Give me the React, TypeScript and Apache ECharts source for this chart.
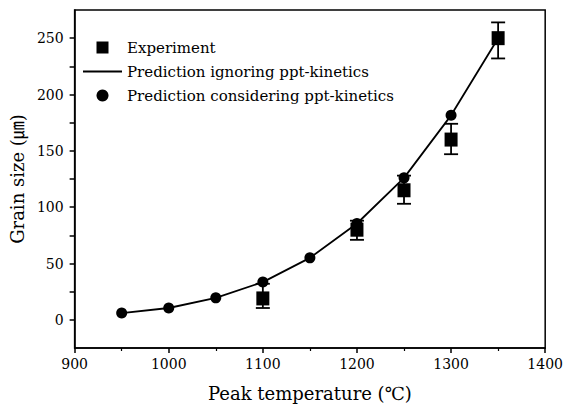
import React, { useEffect, useRef } from "react";
import * as echarts from "echarts";

// Peak temperature (°C) for each series
const predTemps = [950, 1000, 1050, 1100, 1150, 1200, 1250, 1300];
const predConsidering = [6, 10.5, 19.5, 33.5, 55, 85.5, 126, 181.5];

const lineTemps = [950, 1000, 1050, 1100, 1150, 1200, 1250, 1300, 1350];
const predIgnoring = [6, 10.5, 19.5, 33.5, 55, 85.5, 126, 181.5, 250];

const expTemps = [1100, 1200, 1250, 1300, 1350];
const expSize = [19, 80, 115, 160, 250];
const expLow = [10.5, 71, 103, 147, 232];
const expHigh = [32, 88, 128, 174, 264];

const FONT = "'DejaVu Serif', 'Noto Sans CJK KR', serif";

export default function App() {
  const ref = useRef<HTMLDivElement>(null);

  useEffect(() => {
    if (!ref.current) return;
    const chart = echarts.init(ref.current, undefined, { renderer: "svg" });

    const errData = expTemps.map((t, i) => [t, expLow[i], expHigh[i]]);

    chart.setOption({
      animation: false,
      backgroundColor: "#ffffff",
      textStyle: { fontFamily: FONT, color: "#000" },
      grid: {
        left: 73,
        right: 19,
        top: 10,
        bottom: 64,
        show: true,
        borderColor: "#000",
        borderWidth: 1.5,
      },
      legend: {
        orient: "vertical",
        left: 78,
        top: 35,
        itemWidth: 39,
        itemHeight: 12,
        itemGap: 9,
        textStyle: { fontFamily: FONT, fontSize: 15, color: "#000" },
        data: [
          { name: "Experiment", icon: "path://M0 0h10v10h-10z" },
          { name: "Prediction ignoring ppt-kinetics", icon: "path://M0 0h40v2h-40z" },
          { name: "Prediction considering ppt-kinetics", icon: "circle" },
        ],
      },
      xAxis: {
        type: "value",
        min: 900,
        max: 1400,
        interval: 100,
        name: "Peak temperature (℃)",
        nameLocation: "middle",
        nameGap: 36,
        nameTextStyle: { fontFamily: FONT, fontSize: 18, color: "#000" },
        axisLine: { onZero: false, lineStyle: { color: "#000", width: 1.5 } },
        axisTick: { length: 5, lineStyle: { color: "#000", width: 1.5 } },
        minorTick: { show: true, splitNumber: 2, length: 3, lineStyle: { color: "#000", width: 1.2 } },
        splitLine: { show: false },
        axisLabel: {
          fontFamily: FONT,
          fontSize: 14,
          color: "#000",
          margin: 9,
          formatter: (v: number) => String(v),
        },
      },
      yAxis: {
        type: "value",
        min: -25,
        max: 275,
        interval: 25,
        name: "Grain size (㎛)",
        nameLocation: "middle",
        nameGap: 42,
        nameTextStyle: { fontFamily: FONT, fontSize: 18, color: "#000" },
        axisLine: { onZero: false, lineStyle: { color: "#000", width: 1.5 } },
        axisTick: { length: 5, lineStyle: { color: "#000", width: 1.5 } },
        splitLine: { show: false },
        axisLabel: {
          fontFamily: FONT,
          fontSize: 14,
          color: "#000",
          margin: 11,
          showMinLabel: false,
          showMaxLabel: false,
          formatter: (v: number) => (v % 50 === 0 ? String(v) : ""),
        },
      },
      series: [
        {
          name: "Prediction ignoring ppt-kinetics",
          type: "line",
          data: lineTemps.map((t, i) => [t, predIgnoring[i]]),
          symbol: "none",
          lineStyle: { color: "#000", width: 1.8 },
          itemStyle: { color: "#000" },
          z: 2,
        },
        {
          name: "Prediction considering ppt-kinetics",
          type: "scatter",
          data: predTemps.map((t, i) => [t, predConsidering[i]]),
          symbol: "circle",
          symbolSize: 11,
          itemStyle: { color: "#000", opacity: 1 },
          z: 3,
        },
        {
          name: "Experiment error",
          type: "custom",
          data: errData,
          z: 4,
          renderItem: (params: any, api: any) => {
            const x = api.value(0);
            const lo = api.coord([x, api.value(1)]);
            const hi = api.coord([x, api.value(2)]);
            const half = 7;
            const style = { stroke: "#000", lineWidth: 1.8 };
            return {
              type: "group",
              children: [
                { type: "line", shape: { x1: lo[0], y1: lo[1], x2: hi[0], y2: hi[1] }, style },
                { type: "line", shape: { x1: lo[0] - half, y1: lo[1], x2: lo[0] + half, y2: lo[1] }, style },
                { type: "line", shape: { x1: hi[0] - half, y1: hi[1], x2: hi[0] + half, y2: hi[1] }, style },
              ],
            };
          },
        },
        {
          name: "Experiment",
          type: "scatter",
          data: expTemps.map((t, i) => [t, expSize[i]]),
          symbol: "rect",
          symbolSize: [13, 14],
          itemStyle: { color: "#000", opacity: 1 },
          z: 5,
        },
      ],
    });

    return () => chart.dispose();
  }, []);

  return (
    <div
      ref={ref}
      style={{ position: "fixed", left: 0, top: 0, width: 566, height: 412 }}
    />
  );
}
